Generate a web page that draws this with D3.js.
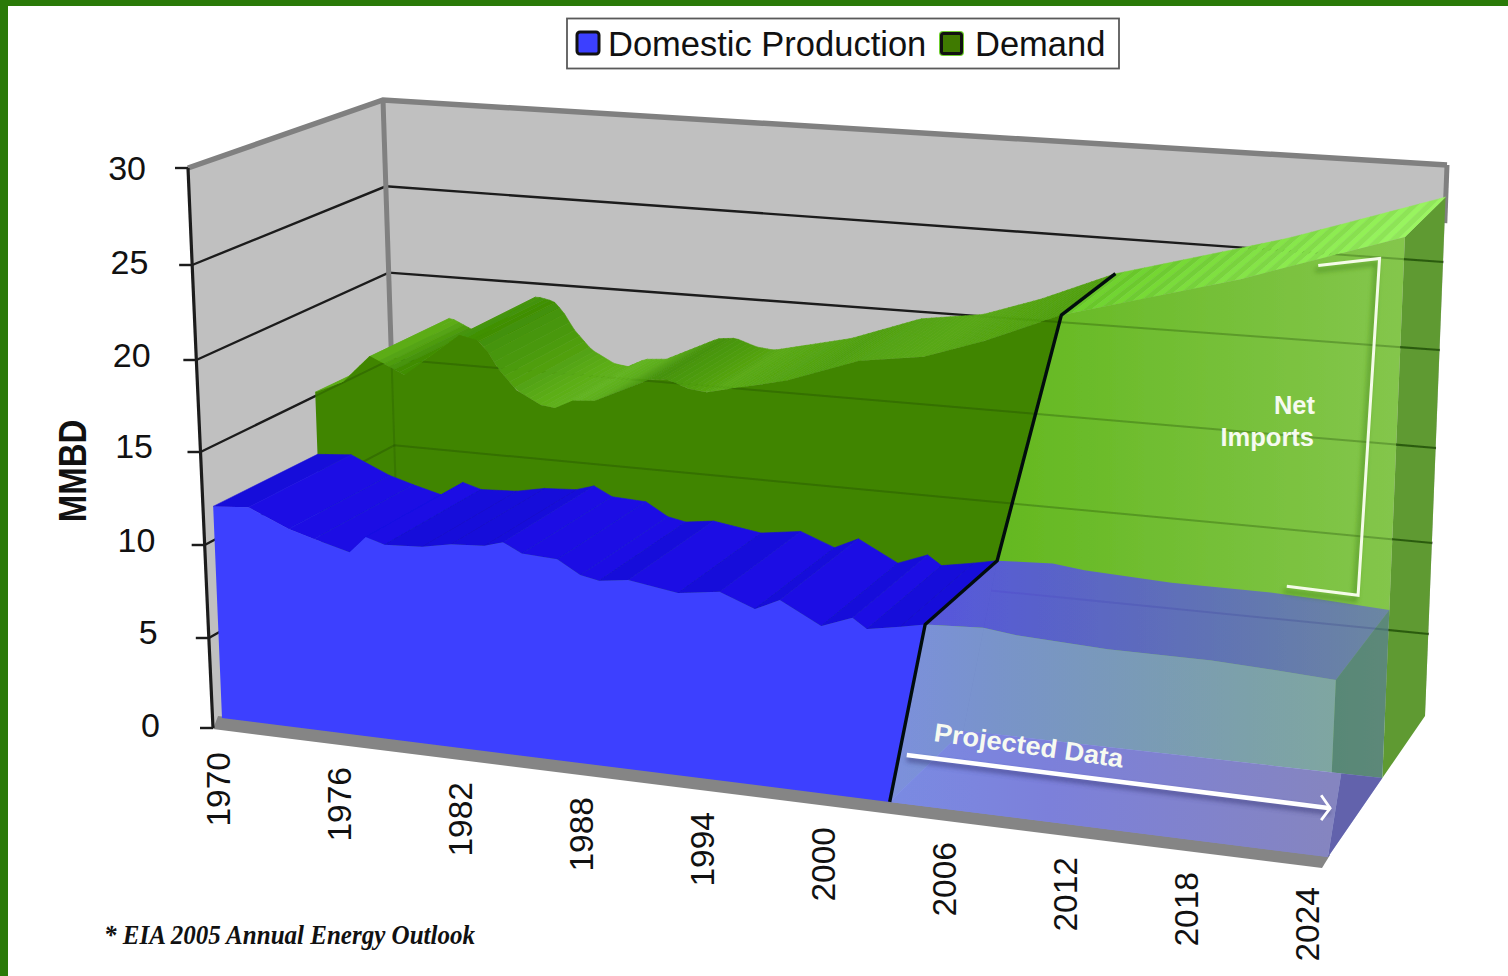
<!DOCTYPE html>
<html><head><meta charset="utf-8">
<script src="https://cdn.jsdelivr.net/npm/d3@7"></script>
<style>html,body{margin:0;padding:0;background:#fff;overflow:hidden}svg{display:block}text{font-family:"Liberation Sans",Arial,sans-serif}</style>
</head><body><svg id="c" width="1508" height="976"></svg>
<script>
// ---- data
const productionYears=[1970,1971.7,1973.6,1974.8,1976.5,1977.3,1978.2,1980,1981.4,1983,1983.9,1984.8,1986.5,1987.6,1988.5,1989.9,1992.3,1994.3,1996,1997.2,1999.2,2000.7,2001.4,2003,2004.2,2007,2008.6,2013,2018,2020.3,2024];
const productionValues=[11.5,11.65,10.7,10.3,9.8,10.7,10.4,10.5,10.8,10.9,11.2,10.7,10.6,9.9,9.7,9.9,9.5,9.8,9.1,9.7,8.6,9.2,8.7,9.0,9.25,9.4,9.2,9.0,9.0,8.9,8.7];
const demandYears=[1970,1971.4,1972.8,1974.5,1977.3,1978.2,1978.7,1979.2,1980.1,1981.3,1982,1982.9,1984,1986.7,1987.6,1988.7,1989.6,1991.2,1993.6,1997.2,2000.4,2003.4,2007.2,2016,2024];
const demandValues=[15,15.7,17.3,16.4,18.9,18.7,18.1,17.2,16.1,15.4,15.3,15.8,15.9,17.3,17.4,17.0,16.9,17.3,17.9,19.3,19.8,20.9,22.6,25.2,28.0];
const yTicks=[0,5,10,15,20,25,30];
const xTicks=[1970,1976,1982,1988,1994,2000,2006,2012,2018,2024];
const seriesNames=["Domestic Production","Demand"];
const splitProduction=2004.2, floorSplit=2002.6, splitDemand=2007.2;
const laneFront=0, laneMid=0.56, laneBack=1;
const colors={blueFront:"#3c40ff",blueTopA:"#1b11e4",blueTopB:"#170cda",greenFront:"#408500",greenSide:"#5f9a32",wall:"#c0c0c0",rim:"#808080",frame:"#2a7a08"};

const svg=d3.select("#c");
const yr=d3.scaleLinear().domain([1970,2024]).range([0,1]);
const h=d3.scaleLinear().domain([0,30]).range([0,1]);
// box corners: [front/back][bottom/top][left/right]
const FBL=[222,718],FBR=[1328,857],BBL=[406,612],BBR=[1425,716],FTL=[199,166],FTR=[1355,247],BTL=[389,94],BTR=[1447,160];
const lerp=(a,b,t)=>[a[0]+(b[0]-a[0])*t,a[1]+(b[1]-a[1])*t];
function P(year,z,v){const f=yr(year),t=h(v);
  const fb=lerp(FBL,FBR,f),bb=lerp(BBL,BBR,f),ft=lerp(FTL,FTR,f),bt=lerp(BTL,BTR,f);
  return lerp(lerp(fb,bb,z),lerp(ft,bt,z),t);}
const line=d3.line();
const poly=(pts)=>line(pts)+"Z";
const prod=d3.scaleLinear().domain(productionYears).range(productionValues);
const dem=d3.scaleLinear().domain(demandYears).range(demandValues);

// axis-plane scales
const axisX=d3.scaleLinear().domain([0,30]).range([213,188]);
const axisY=d3.scaleLinear().domain(yTicks).range([728,638,545,452,360,265,168]);
const cornerX=d3.scaleLinear().domain([0,30]).range([400,383]);
const cornerY=d3.scaleLinear().domain([0,30]).range([618,100]);
const endX=d3.scaleLinear().domain([0,30]).range([1425,1447]);
const endY=d3.scaleLinear().domain(yTicks).range([716,634,543,448,350,262,165]);
const tickLabelEnd=d3.scaleLinear().domain([0,30]).range([160,146]);
const tickLabelY=d3.scaleLinear().domain(yTicks).range([725,632,540,446,355,262,168]);
const labelX=d3.scaleLinear().domain([1970,2024]).range([218,1307]);
const labelTop=d3.scaleLinear().domain([1970,2024]).range([752,887]);
// surface shading along the time axis
const shadeYears=[1970,1973,1974,1976,1978,1979,1981,1983,1987,1990,1995,2000,2007];
const shadeColors=["#5cac18","#5cac18","#3f8c05","#4f9f10","#3f8f05","#4a980c","#5cae18","#62b420","#449208","#5aaa14","#4fa010","#58a814","#4f9f0e"];
const shade=d3.scaleLinear().domain(shadeYears).range(shadeColors);

// defs
const defs=svg.append("defs");
function grad(id,stops,x1=900,x2=1400){const g=defs.append("linearGradient").attr("id",id).attr("gradientUnits","userSpaceOnUse").attr("x1",x1).attr("x2",x2).attr("y1",0).attr("y2",0);
  stops.forEach(s=>g.append("stop").attr("offset",s[0]).attr("stop-color",s[1]).attr("stop-opacity",s[2]));}
grad("gFront",[[0,"#64b820",1],[1,"#84c64c",1]],1000,1400);
grad("bFront",[[0,"rgb(127,137,252)",.85],[1,"rgb(127,137,252)",.5]],900,1340);
grad("bTop",[[0,"rgb(85,72,250)",.85],[1,"rgb(85,72,250)",.5]],950,1390);
grad("bFloor",[[0,"rgb(122,138,226)",1],[.35,"rgb(124,128,218)",1],[1,"rgb(133,133,192)",1]],900,1330);
const blur=defs.append("filter").attr("id","sh").attr("x","-10%").attr("y","-10%").attr("width","120%").attr("height","120%");
blur.append("feGaussianBlur").attr("stdDeviation",2.5);
const soft=defs.append("filter").attr("id","soft");soft.append("feGaussianBlur").attr("stdDeviation",.45);
defs.append("clipPath").attr("id","sideClip").append("path").attr("d",poly([P(2024,laneMid,0),P(2024,laneBack,0),P(2024,laneBack,28),P(2024,laneMid,28)]));

// frame
svg.append("rect").attr("width",1508).attr("height",6).attr("fill",colors.frame);
svg.append("rect").attr("width",8).attr("height",976).attr("fill",colors.frame);

// walls
const root=svg.append("g").attr("filter","url(#soft)");
root.append("path").attr("d",poly([[axisX(30),axisY(30)],[cornerX(30),cornerY(30)],[endX(30),endY(30)],[endX(0),endY(0)],[cornerX(0),cornerY(0)],[axisX(0),axisY(0)]])).attr("fill",colors.wall);
function gridLines(g,color,w,op){
  yTicks.filter(v=>v>0&&v<30).forEach(v=>{
    g.append("path").attr("d",line([[axisX(v),axisY(v)],[cornerX(v),cornerY(v)],[endX(v),endY(v)]])).attr("fill","none").attr("stroke",color).attr("stroke-width",w).attr("opacity",op);
  });
}
gridLines(root,"#1c1c1c",2.4,1);
// rim
root.append("path").attr("d",line([[axisX(30),axisY(30)],[cornerX(30),cornerY(30)],[endX(30),endY(30)]])).attr("fill","none").attr("stroke",colors.rim).attr("stroke-width",5.5);
root.append("path").attr("d",line([[cornerX(30),cornerY(30)],[cornerX(14),cornerY(14)]])).attr("fill","none").attr("stroke",colors.rim).attr("stroke-width",5);
root.append("path").attr("d",line([[endX(30),endY(30)],[endX(27),endY(27)]])).attr("fill","none").attr("stroke",colors.rim).attr("stroke-width",5);
// floor band
root.append("path").attr("d",poly([[213,729],[1322,868],[1330,855],[218,716]])).attr("fill","#858585");

// green side
root.append("path").attr("d",poly([P(2024,laneMid,0),P(2024,laneBack,0),P(2024,laneBack,dem(2024)),P(2024,laneMid,dem(2024))])).attr("fill",colors.greenSide);

// green top (history): fine steps so the shading runs smoothly
const topSteps=d3.range(1970,splitDemand,0.25);
root.append("g").selectAll("path").data(topSteps).join("path")
 .attr("d",y=>{const e=Math.min(y+.25,splitDemand);return poly([P(y,laneMid,dem(y)),P(e,laneMid,dem(e)),P(e,laneBack,dem(e)),P(y,laneBack,dem(y))]);})
 .attr("fill",y=>shade(y)).attr("stroke",y=>shade(y)).attr("stroke-width",.6);
// green top (projection), stripes every half year
const stripeYears=d3.range(splitDemand,2024,0.5);
const stripeCol=d3.scaleLinear().domain([2007,2024]).range(["#66c428","#92e85c"]);
root.append("g").selectAll("path").data(stripeYears).join("path")
 .attr("d",y=>{const e=Math.min(y+.5,2024);return poly([P(y,laneMid,dem(y)),P(e,laneMid,dem(e)),P(e,laneBack,dem(e)),P(y,laneBack,dem(y))]);})
 .attr("fill",(y,i)=>d3.color(stripeCol(y)).brighter(i%2?0.18:0)).attr("stroke",(y,i)=>d3.color(stripeCol(y)).brighter(i%2?0.18:0)).attr("stroke-width",.4);

// green front
const blueAtSplit=prod(splitProduction);
const hist=demandYears.filter(y=>y<=splitDemand);
root.append("path").attr("d",poly([P(1970,laneMid,0),...hist.map(y=>P(y,laneMid,dem(y))),P(splitProduction,laneMid,blueAtSplit),P(splitProduction,laneMid,0)])).attr("fill",colors.greenFront);
const proj=demandYears.filter(y=>y>=splitDemand);
root.append("path").attr("d",poly([...proj.map(y=>P(y,laneMid,dem(y))),P(2024,laneMid,0),P(floorSplit,laneMid,0),P(splitProduction,laneMid,blueAtSplit)])).attr("fill","url(#gFront)");

// faint gridlines showing through the green
const through=root.append("g");
gridLines(through,"#153a00",2,.28);
through.append("path").attr("d",line([[cornerX(18),cornerY(18)],[cornerX(0),cornerY(0)]])).attr("fill","none").attr("stroke","#153a00").attr("stroke-width",2).attr("opacity",.18);
const gClip=defs.append("clipPath").attr("id","greenClip");
gClip.append("path").attr("d",poly([P(1970,laneMid,0),...demandYears.map(y=>P(y,laneMid,dem(y))),P(2024,laneMid,0)]));
through.attr("clip-path","url(#greenClip)");
const sideGrid=root.append("g").attr("clip-path","url(#sideClip)");
gridLines(sideGrid,"#23500c",2.2,.85);

// blue: projection (translucent), drawn first
const pAfter=productionYears.filter(y=>y>=splitProduction);
// green backing seen through the wedge next to the divider
root.append("path").attr("d",poly([P(floorSplit,laneFront,0),P(splitProduction,laneFront,blueAtSplit),P(splitProduction,laneMid,blueAtSplit),P(floorSplit,laneMid,0)])).attr("fill","#64b820");
root.append("path").attr("d",poly([P(2024,laneFront,0),P(2024,laneMid,0),P(2024,laneMid,prod(2024)),P(2024,laneFront,prod(2024))])).attr("fill","rgb(52,76,168)").attr("opacity",.5);
root.append("path").attr("d",poly([P(2024,laneFront,0),P(2024,laneMid,0),P(2021.9,laneMid,0)])).attr("fill","rgb(98,98,172)");
root.append("path").attr("d",poly([...pAfter.map(y=>P(y,laneMid,prod(y))),...pAfter.slice().reverse().map(y=>P(y,laneFront,prod(y)))])).attr("fill","url(#bTop)");
root.append("path").attr("d",poly([...pAfter.map(y=>P(y,laneFront,prod(y))),P(2024,laneFront,0),P(floorSplit,laneFront,0)])).attr("fill","url(#bFront)");
// floor seen through projected blue
root.append("path").attr("d",poly([P(floorSplit,laneFront,0),P(2024,laneFront,0),P(2021.9,laneMid,0),P(floorSplit,laneMid,0)])).attr("fill","url(#bFloor)");

// blue history
const pHist=productionYears.filter(y=>y<=splitProduction);
root.append("g").selectAll("path").data(d3.range(pHist.length-1)).join("path")
 .attr("d",i=>poly([P(pHist[i],laneFront,prod(pHist[i])),P(pHist[i+1],laneFront,prod(pHist[i+1])),P(pHist[i+1],laneMid,prod(pHist[i+1])),P(pHist[i],laneMid,prod(pHist[i]))]))
 .attr("fill",i=>prod(pHist[i+1])>=prod(pHist[i])?colors.blueTopB:colors.blueTopA).attr("stroke",i=>prod(pHist[i+1])>=prod(pHist[i])?colors.blueTopB:colors.blueTopA).attr("stroke-width",.6);
root.append("path").attr("d",poly([P(1970,laneFront,0),...pHist.map(y=>P(y,laneFront,prod(y))),P(floorSplit,laneFront,0)])).attr("fill",colors.blueFront);

// divider
root.append("path").attr("d",line([P(floorSplit,laneFront,0),P(splitProduction,laneFront,blueAtSplit),P(splitProduction,laneMid,blueAtSplit),P(splitDemand,laneMid,dem(splitDemand)),P(splitDemand,laneBack,dem(splitDemand))]))
 .attr("fill","none").attr("stroke","#060a10").attr("stroke-width",3.4).attr("stroke-linejoin","round");

// axis
root.append("path").attr("d",line(yTicks.map(v=>[axisX(v),axisY(v)]))).attr("stroke","#1c1c1c").attr("stroke-width",3.2).attr("fill","none");
root.append("g").selectAll("line").data(yTicks).join("line")
 .attr("x1",v=>axisX(v)-13).attr("x2",v=>axisX(v)).attr("y1",v=>axisY(v)).attr("y2",v=>axisY(v)).attr("stroke","#1c1c1c").attr("stroke-width",2.4);

// annotations
const bracket=[[2019.8,26.2],[2022.8,26.8],[2022.4,9.3],[2018.8,9.4]].map(d=>P(d[0],laneMid,d[1]));
root.append("path").attr("d",line(bracket.map(p=>[p[0]-3,p[1]+5]))).attr("fill","none").attr("stroke","#3d7d12").attr("stroke-width",4).attr("opacity",.55).attr("filter","url(#sh)");
root.append("path").attr("d",line(bracket)).attr("fill","none").attr("stroke","#f4fbe8").attr("stroke-width",3);
const arrowS=P(2003.4,laneFront,2.5),arrowE=P(2024,laneFront,2.4);
const chev=[[arrowE[0]-9,arrowE[1]-13],arrowE,[arrowE[0]-9,arrowE[1]+12]];
root.append("path").attr("d",line([[arrowS[0],arrowS[1]+4],[arrowE[0],arrowE[1]+4]])).attr("stroke","#353575").attr("stroke-width",5).attr("opacity",.6).attr("filter","url(#sh)");
root.append("path").attr("d",line([arrowS,arrowE])).attr("stroke","#fff").attr("stroke-width",4.5).attr("fill","none");
root.append("path").attr("d",line(chev)).attr("stroke","#fff").attr("stroke-width",2.8).attr("fill","none");

// text
const T=svg.append("g").attr("fill","#111");
T.selectAll("text.y").data(yTicks).join("text").attr("class","y")
 .attr("x",v=>tickLabelEnd(v)).attr("y",v=>tickLabelY(v)+12).attr("text-anchor","end").attr("font-size",34).text(d=>d);
T.selectAll("text.x").data(xTicks).join("text").attr("class","x")
 .attr("text-anchor","end").attr("font-size",33.5)
 .attr("transform",d=>`translate(${labelX(d)+12},${labelTop(d)}) rotate(-90)`).text(d=>d);
T.append("text").attr("transform","translate(86,471) rotate(-90) scale(1,1.2)").attr("text-anchor","middle").attr("font-weight","bold").attr("font-size",33).text("MMBD");
T.append("text").attr("x",104).attr("y",944).attr("font-style","italic").attr("font-weight","bold").attr("font-size",27)
 .style("font-family",'"Liberation Serif","Times New Roman",serif').attr("textLength",371).attr("lengthAdjust","spacingAndGlyphs").text("* EIA 2005 Annual Energy Outlook");
const W=svg.append("g").attr("fill","#f6faf0").attr("font-weight","bold");
W.append("text").attr("x",1315).attr("y",414).attr("text-anchor","end").attr("font-size",25.5).text("Net");
W.append("text").attr("x",1314).attr("y",446).attr("text-anchor","end").attr("font-size",25.5).text("Imports");
W.append("text").attr("transform","translate(933,741) rotate(8)").attr("font-size",26).attr("textLength",191).attr("lengthAdjust","spacingAndGlyphs").text("Projected Data");

// legend
const L=svg.append("g");
L.append("rect").attr("x",567).attr("y",18.5).attr("width",552).attr("height",50).attr("fill","#fff").attr("stroke","#5a5a5a").attr("stroke-width",1.8);
L.append("rect").attr("x",577).attr("y",32).attr("width",22).attr("height",22).attr("rx",3).attr("fill",colors.blueFront).attr("stroke","#111").attr("stroke-width",3);
L.append("rect").attr("x",939).attr("y",31).attr("width",25).attr("height",25).attr("rx",4).attr("fill","#70d030");
L.append("rect").attr("x",941.5).attr("y",33.5).attr("width",20).attr("height",20).attr("rx",2).attr("fill","#3f7a00").attr("stroke","#111").attr("stroke-width",3);
L.append("text").attr("x",608).attr("y",56).attr("font-size",34.5).attr("fill","#111").text(seriesNames[0]);
L.append("text").attr("x",975).attr("y",56).attr("font-size",34.5).attr("fill","#111").text(seriesNames[1]);
</script></body></html>
